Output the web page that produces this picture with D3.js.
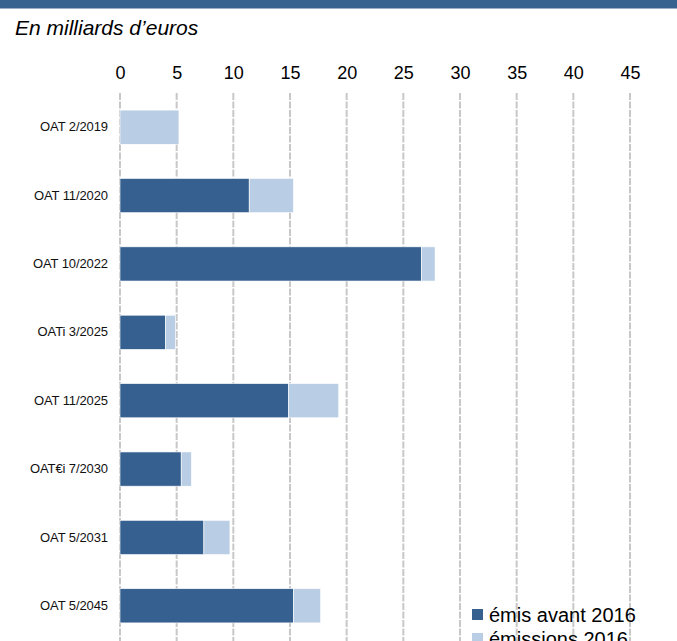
<!DOCTYPE html>
<html>
<head>
<meta charset="utf-8">
<script src="https://cdn.jsdelivr.net/npm/d3@7"></script>
<style>
  html, body { margin: 0; padding: 0; background: #fff; }
  svg { display: block; font-family: "Liberation Sans", Arial, sans-serif; }
</style>
</head>
<body>
<script>
// Encours des OAT : part émise avant 2016 et émissions de 2016 (Md€)
const categories = ["OAT 2/2019", "OAT 11/2020", "OAT 10/2022", "OATi 3/2025",
                    "OAT 11/2025", "OAT€i 7/2030", "OAT 5/2031", "OAT 5/2045"];
const emisAvant2016 = [0, 11.4, 26.6, 4.0, 14.85, 5.4, 7.4, 15.3];
const emissions2016 = [5.2, 3.9, 1.2, 0.9, 4.45, 0.9, 2.3, 2.4];
const xTicks = [0, 5, 10, 15, 20, 25, 30, 35, 40, 45];
const seriesNames = ["émis avant 2016", "émissions 2016"];
const seriesColors = ["#36608f", "#b9cde4"];

const W = 677, H = 641;
const svg = d3.select("body").append("svg").attr("width", W).attr("height", H);

// bandeau supérieur
svg.append("rect").attr("x", 0).attr("y", 0).attr("width", W).attr("height", 8.5)
  .attr("fill", "#37618f");

svg.append("text").attr("x", 15).attr("y", 35)
  .attr("font-size", 21).attr("font-style", "italic").attr("fill", "#000")
  .text("En milliards d’euros");

const x = d3.scaleLinear().domain([0, 45]).range([120, 630]);
const y = d3.scaleBand().domain(categories).range([93, 640])
  .paddingInner(0.5).paddingOuter(0.25);

// quadrillage vertical pointillé
svg.append("g").selectAll("line").data(xTicks).join("line")
  .attr("x1", d => x(d)).attr("x2", d => x(d))
  .attr("y1", 93).attr("y2", H)
  .attr("stroke", "#c8c8c8").attr("stroke-width", 2)
  .attr("stroke-dasharray", "7,1.5");

// axe du haut (étiquettes seulement)
const axisTop = d3.axisTop(x).tickValues(xTicks).tickSize(0).tickPadding(0)
  .tickFormat(d3.format("d"));
const gAxis = svg.append("g").attr("transform", "translate(0,79)").call(axisTop);
gAxis.select(".domain").remove();
gAxis.selectAll("text").attr("font-size", 18).attr("font-family", "Liberation Sans, Arial, sans-serif")
  .attr("fill", "#000").attr("dy", 0);

// axe des catégories
const axisLeft = d3.axisLeft(y).tickSize(0).tickPadding(0);
const gY = svg.append("g").attr("transform", "translate(108,0)").call(axisLeft);
gY.select(".domain").remove();
gY.selectAll("text").attr("font-size", 13).attr("font-weight", "normal")
  .attr("font-family", "Liberation Sans, Arial, sans-serif")
  .attr("fill", "#111").attr("letter-spacing", -0.1);

// barres empilées
const rows = categories.map((c, i) => ({ cat: c, avant: emisAvant2016[i], e2016: emissions2016[i] }));
const stacked = d3.stack().keys(["avant", "e2016"])(rows);
svg.append("g").selectAll("g").data(stacked).join("g")
  .attr("fill", (d, i) => seriesColors[i])
  .selectAll("rect").data(d => d.filter(s => s[1] - s[0] > 0)).join("rect")
  .attr("x", d => x(d[0]))
  .attr("y", d => y(d.data.cat))
  .attr("width", d => x(d[1]) - x(d[0]))
  .attr("height", y.bandwidth())
  .attr("stroke", "#ffffff").attr("stroke-width", 0.6);

// légende
const leg = svg.append("g").selectAll("g").data(seriesNames).join("g")
  .attr("transform", (d, i) => `translate(472,${609 + i * 24})`);
leg.append("rect").attr("width", 11).attr("height", 11)
  .attr("fill", (d, i) => seriesColors[i]);
leg.append("text").attr("x", 17).attr("y", 12.7)
  .attr("font-size", 20).attr("fill", "#000").text(d => d);
</script>
</body>
</html>
